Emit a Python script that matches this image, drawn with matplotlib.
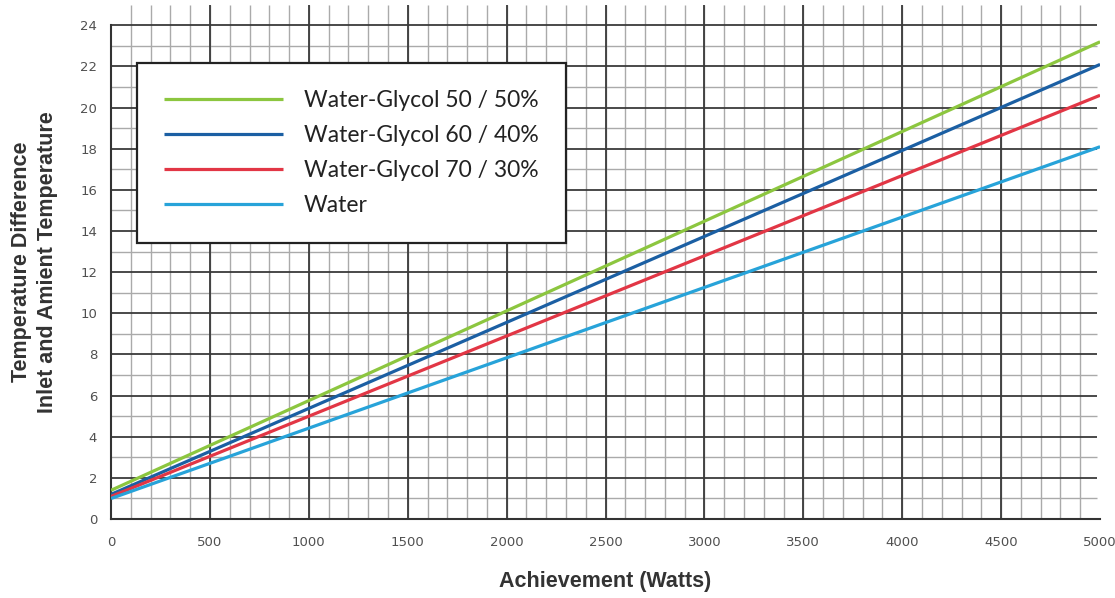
import numpy as np
import matplotlib.pyplot as plt

# data (straight lines, two end points each)
watts = [0, 5000]
glycol_50 = [1.4, 23.2]
glycol_60 = [1.2, 22.1]
glycol_70 = [1.1, 20.6]
water = [1.0, 18.1]

series = [
    ("Water-Glycol 50 / 50%", glycol_50, "#8cc63f"),
    ("Water-Glycol 60 / 40%", glycol_60, "#1b5fa3"),
    ("Water-Glycol 70 / 30%", glycol_70, "#e23645"),
    ("Water", water, "#27a3d9"),
]

x_ticks = np.arange(0, 5001, 500)
y_ticks = np.arange(0, 25, 2)

fig = plt.figure(figsize=(11.15, 5.98), dpi=100)
ax = fig.add_axes([0.0996, 0.132, 0.887, 0.86])
ax.set_xlim(0, 5000)
ax.set_ylim(0, 25)

# graph-paper grid
minor_x = np.arange(100, 5000, 100)
ax.vlines(minor_x, 0, 25, color="#aaaaaa", lw=1.0, zorder=1)
ax.vlines(x_ticks[1:-1], 0, 25, color="#3a3a3a", lw=1.3, zorder=1.5)
ax.hlines(np.arange(1, 24, 2), 0, 4985, color="#aaaaaa", lw=1.0, zorder=1)
ax.hlines(y_ticks[1:], 0, 4985, color="#3a3a3a", lw=1.3, zorder=1.5)

for name, vals, col in series:
    ax.plot(watts, vals, color=col, lw=2.3, label=name, zorder=3, solid_capstyle="butt")

for s in ["top", "right"]:
    ax.spines[s].set_visible(False)
ax.spines["left"].set_bounds(0, 24)
for s in ["left", "bottom"]:
    ax.spines[s].set_linewidth(1.5)
    ax.spines[s].set_color("#333333")

ax.set_xticks(x_ticks)
ax.set_yticks(y_ticks)
ax.tick_params(length=0, labelsize=9.5, labelcolor="#505050")
ax.tick_params(axis="x", pad=12)
ax.tick_params(axis="y", pad=10)

lab_font = dict(family=["Liberation Sans", "DejaVu Sans"], weight="bold",
                size=15.5, color="#333333")
ax.set_xlabel("Achievement (Watts)", labelpad=16, **lab_font)
ax.set_ylabel("Temperature Difference\nInlet and Amient Temperature", labelpad=16,
              linespacing=1.3, **lab_font)

leg = ax.legend(loc="upper left", bbox_to_anchor=(0.026, 0.887),
                prop=dict(family=["Lato", "DejaVu Sans"], size=16.5),
                handlelength=5.2, handletextpad=0.9, labelspacing=0.6,
                borderpad=1.2, borderaxespad=0, fancybox=False,
                framealpha=1, edgecolor="#222222", labelcolor="#222222")
leg.get_frame().set_linewidth(1.6)
leg.set_zorder(5)

fig.savefig("out.png", dpi=100)
